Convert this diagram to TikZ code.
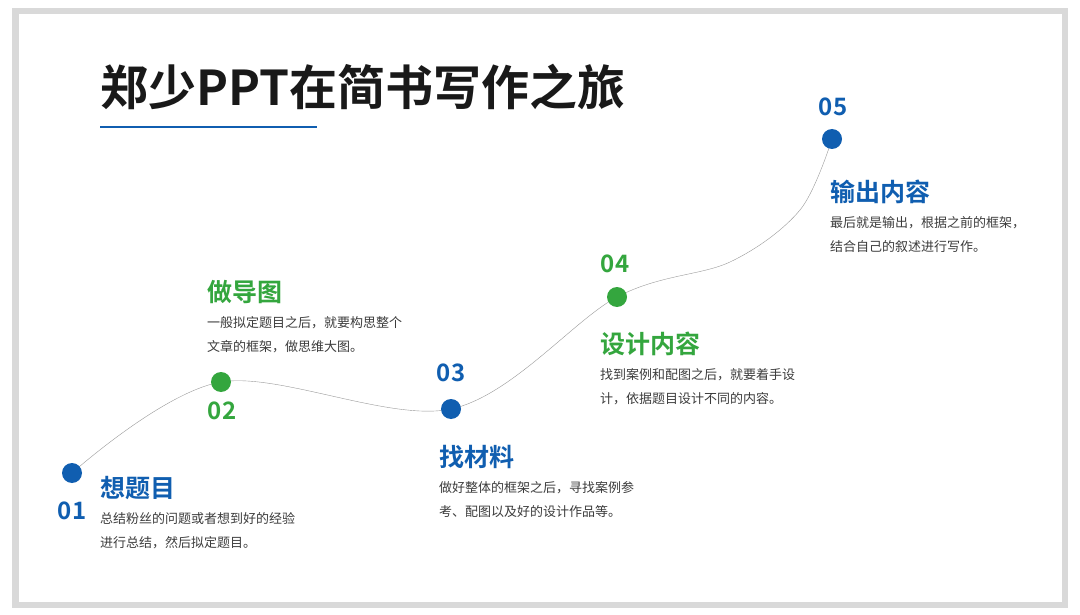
\documentclass[tikz,border=0pt]{standalone}
\usepackage{fontspec}
\setmainfont{Noto Sans CJK SC}
\newfontfamily\cjkbold{Noto Sans CJK SC Bold}
\usetikzlibrary{positioning}
\definecolor{stepblue}{RGB}{16,94,176}
\definecolor{stepgreen}{RGB}{52,166,62}
\definecolor{bodygray}{RGB}{60,60,60}
\tikzset{
  dot/.style={circle,inner sep=0pt,minimum size=20pt},
  num/.style={font=\cjkbold\fontsize{24}{24}\selectfont,inner sep=0pt},
  head/.style={font=\cjkbold\fontsize{25}{25}\selectfont,anchor=west,inner sep=0pt},
  body/.style={font=\fontsize{13}{24}\selectfont,anchor=north west,align=left,inner sep=0pt,text=bodygray},
}
\begin{document}
\begin{tikzpicture}[x=1pt,y=-1pt]
    \useasboundingbox (0,0) rectangle (1080,615);
    \fill[gray!30] (12,8) rectangle (1068,608);
    \fill[white] (19,14) rectangle (1062,602);
    % title
    \node[anchor=west,inner sep=0pt,font=\cjkbold\fontsize{48}{48}\selectfont,text=black!90] (title) at (100,87) {郑少PPT在简书写作之旅};
    \draw[stepblue,line width=2pt] (100,127) -- (317,127);
    % curve
    \draw[gray!80,thin] plot[smooth,tension=0.55] coordinates {(72,473) (221,382) (451,409) (617,297) (730,262) (800,210) (832,139)};
    \node[dot,fill=stepblue]  (p1) at (72,473)  {};
    \node[dot,fill=stepgreen] (p2) at (221,382) {};
    \node[dot,fill=stepblue]  (p3) at (451,409) {};
    \node[dot,fill=stepgreen] (p4) at (617,297) {};
    \node[dot,fill=stepblue]  (p5) at (832,139) {};
    % numbers
    \node[num,text=stepblue]  (n1) at (72,511)  {01};
    \node[num,text=stepgreen] (n2) at (222,411) {02};
    \node[num,text=stepblue]  (n3) at (451,373) {03};
    \node[num,text=stepgreen] (n4) at (615,264) {04};
    \node[num,text=stepblue]  (n5) at (833,107) {05};
    % headings
    \node[head,text=stepblue]  (h1) at (100,488) {想题目};
    \node[head,text=stepgreen] (h2) at (207,292) {做导图};
    \node[head,text=stepblue]  (h3) at (439,457) {找材料};
    \node[head,text=stepgreen] (h4) at (600,344) {设计内容};
    \node[head,text=stepblue]  (h5) at (830,192) {输出内容};
    % descriptions
    \node[body] (b1) at (100,512) {总结粉丝的问题或者想到好的经验\\进行总结，然后拟定题目。};
    \node[body] (b2) at (207,316) {一般拟定题目之后，就要构思整个\\文章的框架，做思维大图。};
    \node[body] (b3) at (439,481) {做好整体的框架之后，寻找案例参\\考、配图以及好的设计作品等。};
    \node[body] (b4) at (600,368) {找到案例和配图之后，就要着手设\\计，依据题目设计不同的内容。};
    \node[body] (b5) at (830,216) {最后就是输出，根据之前的框架，\\结合自己的叙述进行写作。};
\end{tikzpicture}
\end{document}
